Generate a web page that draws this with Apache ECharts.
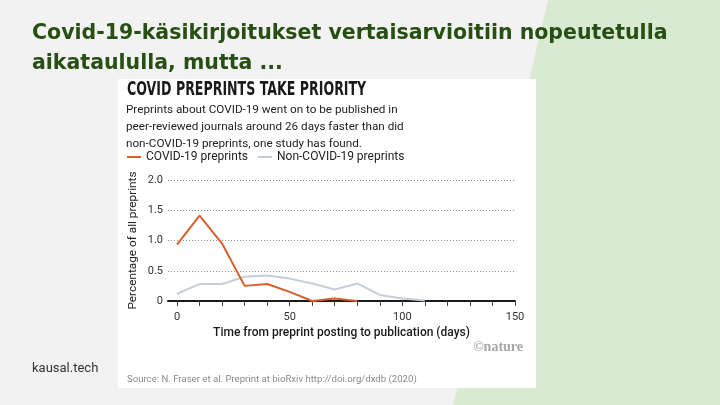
<!DOCTYPE html>
<html lang="fi">
<head>
  <meta charset="UTF-8">
  <title>Covid-19 preprints</title>
  <style>
    html, body { margin: 0; padding: 0; background: #f2f2f2; }
  </style>
</head>
<body>
  <div id="chart" style="width: 720px; height: 405px;"></div>
</body>

<script src="https://cdn.jsdelivr.net/npm/echarts@6/dist/echarts.min.js"></script>

<script>
  // days from preprint posting to publication
  const days = [0, 10, 20, 30, 40, 50, 60, 70, 80, 90, 100, 110];
  // percentage of all preprints
  const covidValues = [0.93, 1.41, 0.95, 0.25, 0.28, 0.15, 0, 0.04, 0];
  const nonCovidValues = [0.12, 0.28, 0.28, 0.40, 0.42, 0.37, 0.29, 0.19, 0.29, 0.10, 0.04, 0.01];
  const xTickValues = [0, 10, 20, 30, 40, 50, 60, 70, 80, 90, 100, 110, 120, 130, 140, 150];
  const xLabelValues = [0, 50, 100, 150];
  const yLabelValues = [0, 0.5, 1, 1.5, 2];

  const myChart = echarts.init(document.getElementById('chart'));

  const option = {
    backgroundColor: '#f2f2f2',
    animation: false,
    graphic: [
      {
        type: 'polygon',
        z: -10,
        shape: { points: [[548, 0], [720, 0], [720, 405], [453, 405]] },
        style: { fill: '#d9ead3' }
      },
      {
        type: 'rect',
        z: -9,
        shape: { x: 118, y: 79, width: 418, height: 309 },
        style: { fill: '#ffffff' }
      },
      {
        type: 'text',
        left: 32,
        top: 19,
        style: {
          text: 'Covid-19-käsikirjoitukset vertaisarvioitiin nopeutetulla\naikataululla, mutta ...',
          font: 'bold 20.5px "DejaVu Sans"',
          lineHeight: 30,
          fill: '#274e13'
        }
      },
      {
        // chart headline, squeezed to the condensed look of the original
        type: 'text',
        x: 127,
        y: 80,
        scaleX: 0.63,
        style: {
          text: 'COVID PREPRINTS TAKE PRIORITY',
          font: 'bold 20px "DejaVu Sans"',
          fill: '#1a1a1a'
        }
      },
      {
        type: 'text',
        left: 32,
        top: 362,
        style: { text: 'kausal.tech', font: '13px Roboto', fill: '#333333' }
      },
      {
        type: 'text',
        right: 197,
        top: 340,
        style: { text: '©nature', font: 'bold 14px "Liberation Serif"', fill: '#a6a6a6' }
      },
      {
        type: 'text',
        left: 127,
        top: 375,
        style: {
          text: 'Source: N. Fraser et al. Preprint at bioRxiv http://doi.org/dxdb (2020)',
          font: '9.6px Roboto',
          fill: '#8a8a8a'
        }
      }
    ],
    title: {
      text: '',
      left: 126,
      top: 102,
      subtext: 'Preprints about COVID-19 went on to be published in\npeer-reviewed journals around 26 days faster than did\nnon-COVID-19 preprints, one study has found.',
      itemGap: 0,
      subtextStyle: {
        fontFamily: 'Roboto',
        fontSize: 11.7,
        lineHeight: 17,
        color: '#222222'
      },
      padding: 0
    },
    legend: {
      left: 127,
      top: 151,
      padding: 0,
      itemWidth: 14,
      itemHeight: 2,
      itemGap: 10,
      icon: 'rect',
      textStyle: { fontFamily: 'Roboto', fontSize: 12, color: '#222222' },
      data: ['COVID-19 preprints', 'Non-COVID-19 preprints']
    },
    grid: {
      left: 168,
      right: 205,
      top: 180,
      bottom: 104
    },
    xAxis: {
      type: 'value',
      min: -4,
      max: 150,
      name: 'Time from preprint posting to publication (days)',
      nameLocation: 'middle',
      nameGap: 26,
      nameTextStyle: { fontFamily: 'Roboto', fontSize: 12, fontWeight: 500, color: '#1a1a1a' },
      axisLine: { lineStyle: { color: '#1a1a1a', width: 2 } },
      axisTick: {
        show: true,
        customValues: xTickValues,
        length: 5,
        lineStyle: { color: '#444444', width: 1 }
      },
      axisLabel: {
        customValues: xLabelValues,
        margin: 11,
        fontFamily: 'Roboto',
        fontSize: 11,
        color: '#333333'
      },
      splitLine: { show: false }
    },
    yAxis: {
      type: 'value',
      min: 0,
      max: 2,
      name: 'Percentage of all preprints',
      nameLocation: 'middle',
      nameGap: 29,
      nameTextStyle: { fontFamily: 'Roboto', fontSize: 11.8, color: '#222222' },
      axisLine: { show: false },
      axisTick: { show: false },
      axisLabel: {
        customValues: yLabelValues,
        margin: 5,
        fontFamily: 'Roboto',
        fontSize: 11,
        color: '#333333',
        formatter: function (v) { return v === 0 ? '0' : v.toFixed(1); }
      },
      splitLine: {
        show: true,
        lineStyle: { type: [1, 2], color: '#8c8c8c', width: 1 }
      },
      interval: 0.5
    },
    series: [
      {
        name: 'Non-COVID-19 preprints',
        type: 'line',
        showSymbol: false,
        z: 2,
        color: '#c6cdd6',
        lineStyle: { width: 2, color: '#c6cdd6' },
        data: days.map((d, i) => [d, nonCovidValues[i]])
      },
      {
        name: 'COVID-19 preprints',
        type: 'line',
        showSymbol: false,
        z: 3,
        color: '#d65f2c',
        lineStyle: { width: 2, color: '#d65f2c' },
        data: covidValues.map((v, i) => [days[i], v])
      }
    ]
  };

  myChart.setOption(option);
</script>
</html>
